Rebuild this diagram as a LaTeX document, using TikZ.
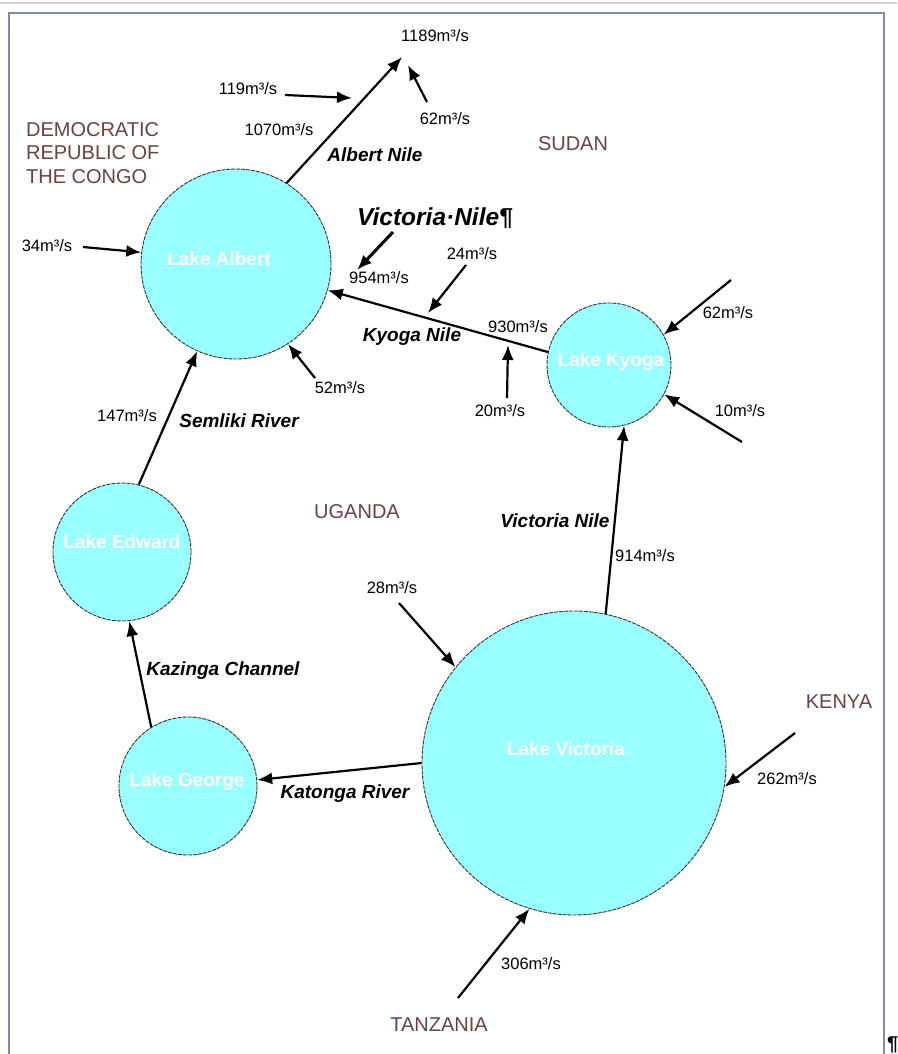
\documentclass[tikz,border=0pt]{standalone}
\usepackage{fontspec}
\setmainfont{Liberation Sans}
\usepackage{xcolor}
\usepackage{tikz}
\usetikzlibrary{arrows.meta}

\definecolor{lakecyan}{RGB}{153,255,255}
\definecolor{country}{RGB}{112,64,64}
\definecolor{framegray}{RGB}{125,140,175}

\begin{document}
\begin{tikzpicture}[x=1pt, y=-1pt, line width=2.2pt,
    every node/.style={inner sep=0pt},
    lake/.style={circle, fill=lakecyan, draw=black!80, line width=0.9pt, dash pattern=on 4pt off 1pt},
    laketext/.style={text=white, font=\fontsize{19}{22}\selectfont\bfseries},
    river/.style={font=\fontsize{19}{22}\selectfont\bfseries\itshape},
    flow/.style={font=\fontsize{16.5}{19}\selectfont},
    land/.style={text=country, font=\fontsize{20}{23.5}\selectfont},
    arr/.style={-{Latex[length=15pt,width=12pt]}}]
    \clip (0,0) rectangle (897,1054);
    \fill[white] (0,0) rectangle (897,1054);
    % Frame
    \draw[black!18, line width=1.5pt] (0,3) -- (897,3);
    \draw[framegray, line width=1.5pt] (9,1060) -- (9,13) -- (884,13) -- (884,1060);

    % Lakes
    \node[lake, minimum size=190pt] (alb) at (236,264) {};
    \node[lake, minimum size=124pt] (kyo) at (609,365) {};
    \node[lake, minimum size=138pt] (edw) at (122,552) {};
    \node[lake, minimum size=138pt] (geo) at (188,786) {};
    \node[lake, minimum size=304pt] (vic) at (574,763) {};
    \node[laketext] (albtxt) at (219,259) {Lake Albert};
    \node[laketext] (kyotxt) at (611,362) {Lake Kyoga};
    \node[laketext] (edwtxt) at (122,542) {Lake Edward};
    \node[laketext] (geotxt) at (187,782) {Lake George};
    \node[laketext] (victxt) at (566,749) {Lake Victoria};

    % Free ends
    \coordinate (sudan) at (402,57);
    \coordinate (in34) at (83,247);
    \coordinate (in52) at (315,378);
    \coordinate (in119) at (285,95);
    \coordinate (to119) at (352,98);
    \coordinate (in62) at (427,102);
    \coordinate (to62) at (408,65);
    \coordinate (in24) at (466,265);
    \coordinate (to24) at (428,313);
    \coordinate (in20) at (507,398);
    \coordinate (to20) at (508,345);
    \coordinate (vnA) at (393,232);
    \coordinate (vnB) at (357,270);
    \coordinate (inky62) at (731,280);
    \coordinate (in10) at (742,442);
    \coordinate (in28) at (399,603);
    \coordinate (in262) at (795,733);
    \coordinate (in306) at (458,998);

    % Rivers
    \draw[arr] (alb.58) -- (sudan);
    \draw[arr] (kyo.168) -- (alb.-16);
    \draw[arr] (edw.76) -- (alb.246);
    \draw[arr] (geo.122) -- (edw.-84);
    \draw[arr] (vic.180) -- (geo.5);
    \draw[arr] (vic.78) -- (kyo.-76);

    % Inflows
    \draw[arr] (in34) -- (alb.173);
    \draw[arr] (in52) -- (alb.-57);
    \draw[arr] (in119) -- (to119);
    \draw[arr] (in62) -- (to62);
    \draw[arr] (in24) -- (to24);
    \draw[arr] (in20) -- (to20);
    \draw[arr, line width=3pt] (vnA) -- (vnB);
    \draw[arr] (inky62) -- (kyo.29);
    \draw[arr] (in10) -- (kyo.-28);
    \draw[arr] (in28) -- (vic.141);
    \draw[arr] (in262) -- (vic.-9);
    \draw[arr] (in306) -- (vic.-107);

    % River names
    \node[river] (albnile) at (375,155) {Albert Nile};
    \node[river] (kyonile) at (412,337) {Kyoga Nile};
    \node[river] (semliki) at (239,421) {Semliki River};
    \node[river] (vicnile) at (555,521) {Victoria Nile};
    \node[river] (kazinga) at (223,671) {Kazinga Channel};
    \node[river] (katonga) at (345,794) {Katonga River};
    \node[river, font=\fontsize{24.5}{28}\selectfont\bfseries\itshape] (vnbig) at (435,218) {Victoria·Nile¶};

    % Flow rates
    \node[flow] (f1189) at (435,36) {1189m³/s};
    \node[flow] (f119) at (248,89) {119m³/s};
    \node[flow] (f62a) at (445,119) {62m³/s};
    \node[flow] (f1070) at (279,130) {1070m³/s};
    \node[flow] (f34) at (47,246) {34m³/s};
    \node[flow] (f24) at (472,254) {24m³/s};
    \node[flow] (f954) at (379,278) {954m³/s};
    \node[flow] (f62b) at (728,313) {62m³/s};
    \node[flow] (f930) at (518,327) {930m³/s};
    \node[flow] (f52) at (340,388) {52m³/s};
    \node[flow] (f147) at (127,416) {147m³/s};
    \node[flow] (f20) at (500,411) {20m³/s};
    \node[flow] (f10) at (740,411) {10m³/s};
    \node[flow] (f914) at (645,556) {914m³/s};
    \node[flow] (f28) at (392,588) {28m³/s};
    \node[flow] (f262) at (787,779) {262m³/s};
    \node[flow] (f306) at (531,964) {306m³/s};

    % Countries
    \node[land, align=left, anchor=north west] (drc) at (25,121) {DEMOCRATIC\\REPUBLIC OF\\THE CONGO};
    \node[land] (sudanlbl) at (573,144) {SUDAN};
    \node[land] (uganda) at (357,512) {UGANDA};
    \node[land] (kenya) at (839,702) {KENYA};
    \node[land] (tanzania) at (439,1025) {TANZANIA};
    \node[font=\fontsize{20}{22}\selectfont\bfseries, anchor=west] (pil) at (886,1045) {¶};
\end{tikzpicture}
\end{document}
